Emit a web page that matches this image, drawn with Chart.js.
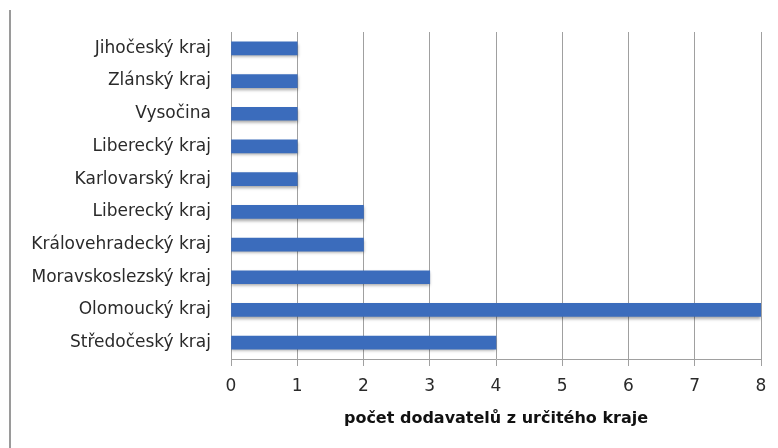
<!DOCTYPE html>
<html>
<head>
<meta charset="utf-8">
<script src="https://cdn.jsdelivr.net/npm/chart.js@4/dist/chart.umd.min.js"></script>
<style>
  html,body{margin:0;padding:0;background:#fff;}
  #wrap{position:relative;width:778px;height:448px;}
  #edge{position:absolute;left:9px;top:10px;width:2px;height:438px;background:#9a9a9a;}
</style>
</head>
<body>
<div id="wrap">
  <div id="edge"></div>
  <canvas id="ch" width="778" height="448"></canvas>
</div>
<script>
const labels = ['Jihočeský kraj','Zlánský kraj','Vysočina','Liberecký kraj','Karlovarský kraj',
  'Liberecký kraj','Královehradecký kraj','Moravskoslezský kraj','Olomoucký kraj','Středočeský kraj'];
const counts = [1,1,1,1,1,2,2,3,8,4];
const xTicks = [0,1,2,3,4,5,6,7,8];
const axisTitle = 'počet dodavatelů z určitého kraje';

const FONT = "'DejaVu Sans', sans-serif";

// soft drop shadow under the bars, like the office chart
const shadow = {
  id:'shadow',
  beforeDatasetsDraw(c){ const x=c.ctx; x.save(); x.shadowColor='rgba(0,0,0,0.35)'; x.shadowBlur=3; x.shadowOffsetY=2; },
  afterDatasetsDraw(c){ c.ctx.restore(); }
};

new Chart(document.getElementById('ch'), {
  type:'bar',
  data:{ labels, datasets:[{ data:counts, backgroundColor:(ctx)=>{
    const el = ctx.element; const c = ctx.chart.ctx;
    if(!el || el.y==null) return '#3b6cbc';
    const g = c.createLinearGradient(0, el.y-6.5, 0, el.y+6.5);
    g.addColorStop(0,'#5587d6'); g.addColorStop(0.5,'#3d6ebf'); g.addColorStop(1,'#2c5597');
    return g;
  }, barThickness:13, borderWidth:0 }]},
  options:{
    indexAxis:'y', responsive:false, animation:false,
    layout:{ padding:{ top:32, right:17, left:0, bottom:16 } },
    plugins:{ legend:{display:false}, tooltip:{enabled:false} },
    scales:{
      x:{
        min:0, max:8,
        afterFit:(s)=>{ s.height = 73; },
        afterBuildTicks:(s)=>{ s.ticks = xTicks.map(v=>({value:v})); },
        grid:{ color:'#a0a0a0', tickLength:7, lineWidth:1 },
        border:{ color:'#a0a0a0' },
        ticks:{ color:'#2a2a2a', font:{family:FONT, size:17}, padding:10 },
        title:{ display:true, text:axisTitle, color:'#111', font:{family:FONT, size:16, weight:'bold'}, padding:{top:8} }
      },
      y:{
        afterFit:(s)=>{ s.width = 231; },
        grid:{ display:false },
        border:{ display:true, color:'#a0a0a0' },
        ticks:{ color:'#2a2a2a', font:{family:FONT, size:17}, padding:12 }
      }
    }
  },
  plugins:[shadow]
});
</script>
</body>
</html>
